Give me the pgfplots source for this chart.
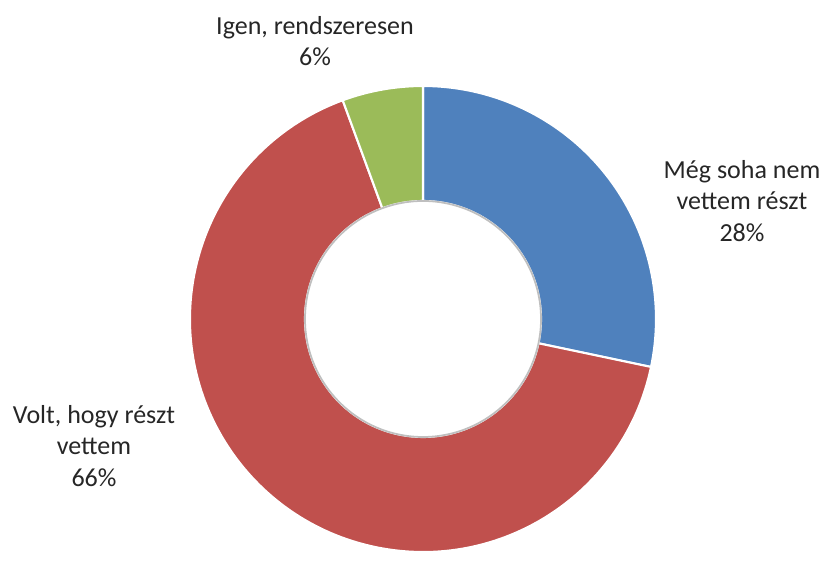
\documentclass[border=0pt]{standalone}
\usepackage{fontspec}
\setmainfont{Carlito}
\usepackage{pgfplots}
\usepackage{pgfplotstable}
\pgfplotsset{compat=1.18}
\definecolor{cblue}{HTML}{4F81BD}
\definecolor{cred}{HTML}{C0504D}
\definecolor{cgreen}{HTML}{9BBB59}
\definecolor{ctext}{HTML}{262626}
\pgfplotstableread{
value col
28.3 cblue
66.1 cred
5.6 cgreen
}\data
\begin{document}
\begin{tikzpicture}
\begin{axis}[hide axis, scale only axis, width=8.25cm, height=5.55cm,
  xmin=0, xmax=825, ymin=0, ymax=555, clip=false]
\coordinate (C) at (axis cs:423,236);
\path (rel axis cs:0,0) rectangle (rel axis cs:1,1);
\node[align=center, inner sep=0pt, text=ctext, font=\fontsize{7.4pt}{9pt}\selectfont] at (axis cs:315,514) {Igen, rendszeresen\\6\%};
\node[align=center, inner sep=0pt, text=ctext, font=\fontsize{7.4pt}{9pt}\selectfont] at (axis cs:742,354) {Még soha nem\\vettem részt\\28\%};
\node[align=center, inner sep=0pt, text=ctext, font=\fontsize{7.4pt}{9pt}\selectfont] at (axis cs:94,109) {Volt, hogy részt\\vettem\\66\%};
\end{axis}
\gdef\acur{90}
\pgfplotstablegetrowsof{\data}
\pgfmathtruncatemacro\nrows{\pgfplotsretval-1}
\foreach \i in {0,...,\nrows} {
  \pgfplotstablegetelem{\i}{value}\of\data \let\val\pgfplotsretval
  \pgfplotstablegetelem{\i}{col}\of\data \let\col\pgfplotsretval
  \pgfmathsetmacro\aend{\acur-3.6*\val}
  \fill[fill=\col, draw=white, line width=0.6pt]
    ([shift={(\acur:2.33cm)}]C) arc[start angle=\acur, end angle=\aend, radius=2.33cm]
    -- ([shift={(\aend:1.18cm)}]C) arc[start angle=\aend, end angle=\acur, radius=1.18cm] -- cycle;
  \xdef\acur{\aend}
}
\draw[black!25, line width=0.5pt] (C) circle[radius=1.18cm];
\end{tikzpicture}
\end{document}
